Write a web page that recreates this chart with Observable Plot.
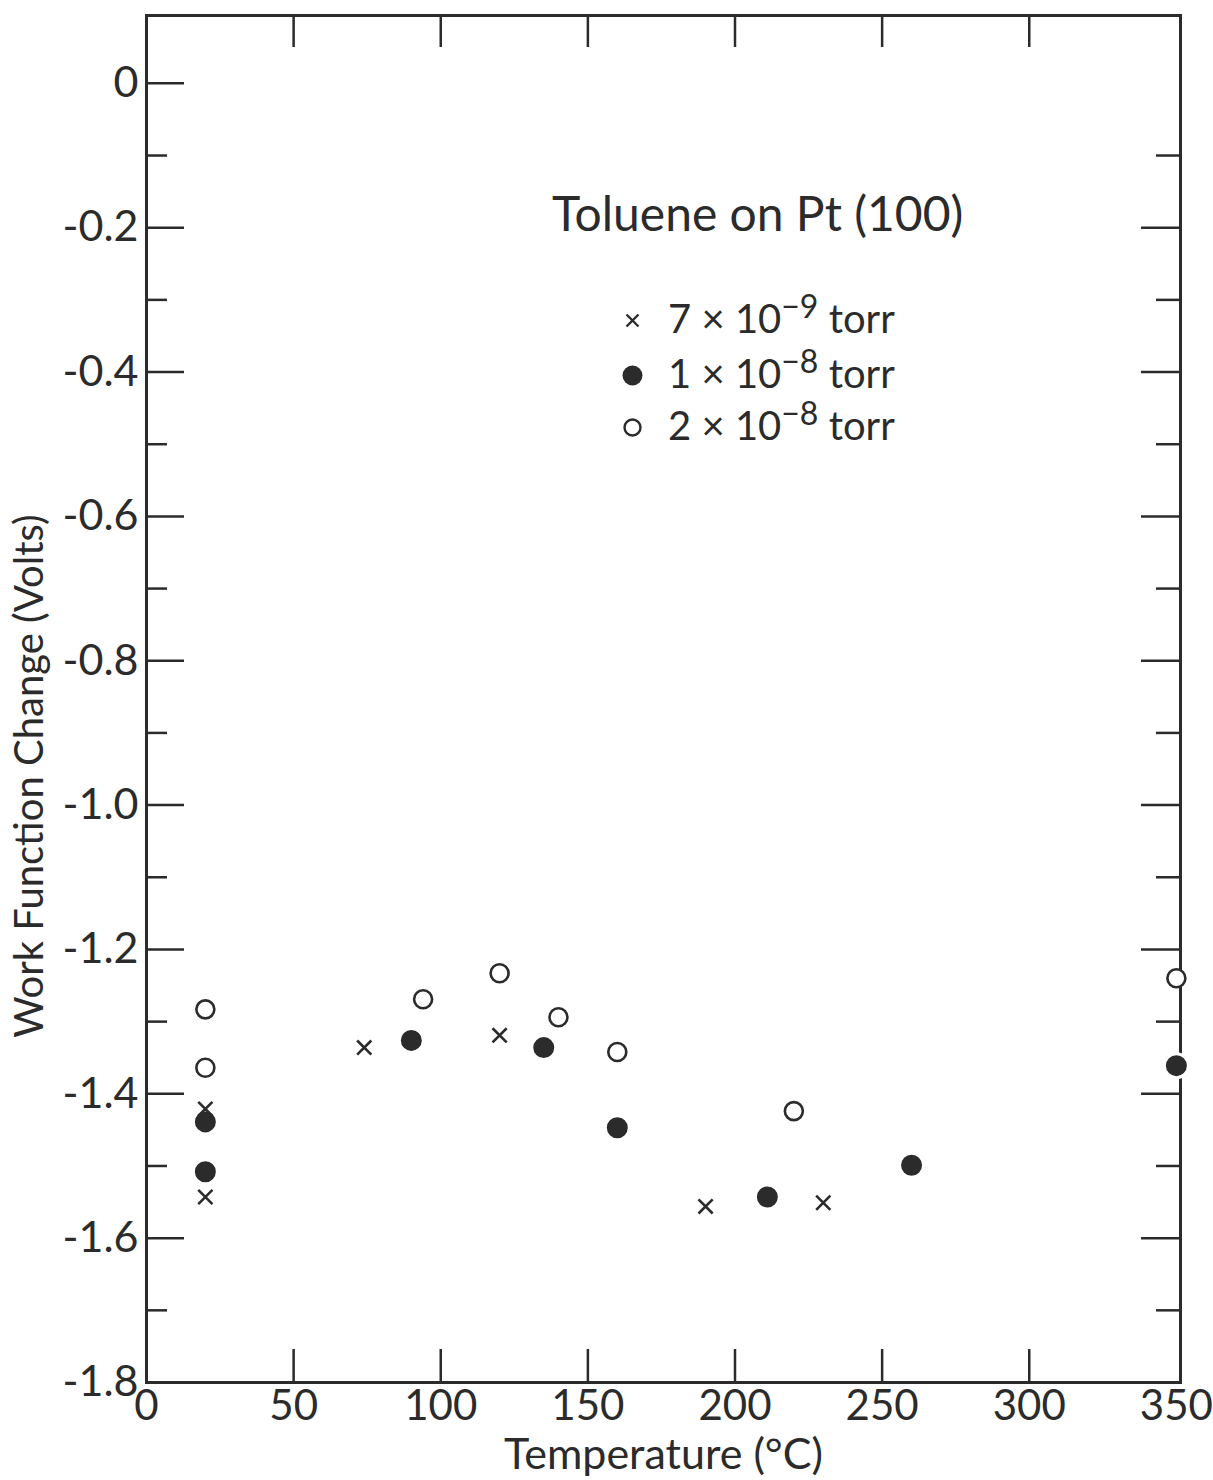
<!DOCTYPE html>
<html><head><meta charset="utf-8">
<script src="https://cdn.jsdelivr.net/npm/d3@7"></script>
<script src="https://cdn.jsdelivr.net/npm/@observablehq/plot@0.6"></script>
<style>
body{margin:0;background:#fff;}
#wrap{position:relative;width:1213px;height:1480px;font-family:Lato,"DejaVu Sans",sans-serif;color:#2b2b2b;}
.lg{position:absolute;line-height:1;white-space:nowrap;}
.sup{font-size:32px;position:relative;top:-15px;}
</style></head><body><div id="wrap"></div>
<script>
// Series: 7e-9 torr (crosses)
const tempCross = [20, 20, 74, 120, 190, 230];
const wfCross   = [-1.421, -1.543, -1.336, -1.319, -1.556, -1.551];
// Series: 1e-8 torr (filled circles)
const tempFilled = [20, 20, 90, 135, 160, 211, 260, 350];
const wfFilled   = [-1.439, -1.508, -1.326, -1.336, -1.447, -1.543, -1.499, -1.361];
// Series: 2e-8 torr (open circles)
const tempOpen = [20, 20, 94, 120, 140, 160, 220, 350];
const wfOpen   = [-1.283, -1.364, -1.269, -1.233, -1.294, -1.342, -1.424, -1.240];

const xTickLabels = [0, 50, 100, 150, 200, 250, 300, 350];
const xInnerTicks = [50, 100, 150, 200, 250, 300];
const yMajorTicks = [0, -0.2, -0.4, -0.6, -0.8, -1.0, -1.2, -1.4, -1.6, -1.8];
const yMinorTicks = [-0.1, -0.3, -0.5, -0.7, -0.9, -1.1, -1.3, -1.5, -1.7];
const yRightMajor = [-0.2, -0.4, -0.6, -0.8, -1.0, -1.2, -1.4, -1.6];

const titleText = "Toluene on Pt (100)";
const xLabel = "Temperature (°C)";
const yLabel = "Work Function Change (Volts)";

const cross = tempCross.map((t, i) => ({t, v: wfCross[i]}));
const filled = tempFilled.map((t, i) => ({t, v: wfFilled[i]}));
const open = tempOpen.map((t, i) => ({t, v: wfOpen[i]}));

const ink = "#2b2b2b";
const noLabel = () => "";

const chart = Plot.plot({
  width: 1213,
  height: 1480,
  marginLeft: 146,
  marginRight: 33,
  marginTop: 15,
  marginBottom: 98,
  style: {fontFamily: "Lato, 'DejaVu Sans', sans-serif", color: ink, background: "#fff"},
  x: {domain: [0, 351.4]},
  y: {domain: [-1.8, 0.094]},
  marks: [
    // inward ticks
    Plot.axisY(yMajorTicks, {anchor: "left", tickSize: -38, tickFormat: noLabel, strokeWidth: 2.5, label: null}),
    Plot.axisY(yMinorTicks, {anchor: "left", tickSize: -21, tickFormat: noLabel, strokeWidth: 2.5, label: null}),
    Plot.axisY(yRightMajor, {anchor: "right", tickSize: -40, tickFormat: noLabel, strokeWidth: 2.5, label: null}),
    Plot.axisY(yMinorTicks, {anchor: "right", tickSize: -25, tickFormat: noLabel, strokeWidth: 2.5, label: null}),
    Plot.axisX(xInnerTicks, {anchor: "top", tickSize: -31, tickFormat: noLabel, strokeWidth: 2.5, label: null}),
    Plot.axisX(xInnerTicks, {anchor: "bottom", tickSize: -33, tickFormat: noLabel, strokeWidth: 2.5, label: null}),
    // tick labels
    Plot.axisY(yMajorTicks, {anchor: "left", tickSize: 0, tickPadding: 8, fontSize: 43,
      tickFormat: d => d === 0 ? "0" : d.toFixed(1), label: null}),
    Plot.axisX(xTickLabels, {anchor: "bottom", tickSize: 0, tickPadding: 8, fontSize: 42,
      tickFormat: d => String(d), label: null}),
    Plot.frame({stroke: ink, strokeWidth: 3}),
    // axis titles
    Plot.text([xLabel], {frameAnchor: "bottom", dy: 86, fontSize: 43, fill: ink}),
    Plot.text([yLabel], {frameAnchor: "left", textAnchor: "middle", rotate: -90, dx: -116, dy: 77, fontSize: 40, fill: ink}),
    // data
    Plot.dot(filled, {x: "t", y: "v", r: 12, fill: ink, stroke: "#fff", strokeWidth: 3}),
    Plot.dot(open, {x: "t", y: "v", r: 9, fill: "#fff", stroke: ink, strokeWidth: 2.6}),
    Plot.dot(cross, {x: "t", y: "v", r: 6.5, symbol: "times", stroke: ink, strokeWidth: 2.6}),
    // legend symbols
    Plot.dot([0], {frameAnchor: "top-left", dx: 486, dy: 305, r: 5.5, symbol: "times", stroke: ink, strokeWidth: 2.4}),
    Plot.dot([0], {frameAnchor: "top-left", dx: 486, dy: 360, r: 10, fill: ink}),
    Plot.dot([0], {frameAnchor: "top-left", dx: 486, dy: 412, r: 8, fill: "#fff", stroke: ink, strokeWidth: 2.4})
  ]
});

const wrap = document.getElementById("wrap");
wrap.appendChild(chart);

function addDiv(html, left, top, size) {
  const d = document.createElement("div");
  d.className = "lg";
  d.style.left = left + "px";
  d.style.top = top + "px";
  d.style.fontSize = size + "px";
  d.innerHTML = html;
  wrap.appendChild(d);
}
addDiv(titleText, 552, 189, 48);
addDiv('7 × 10<span class="sup">−9</span> torr', 668, 298, 40);
addDiv('1 × 10<span class="sup">−8</span> torr', 668, 353, 40);
addDiv('2 × 10<span class="sup">−8</span> torr', 668, 405, 40);
</script>
</body></html>
